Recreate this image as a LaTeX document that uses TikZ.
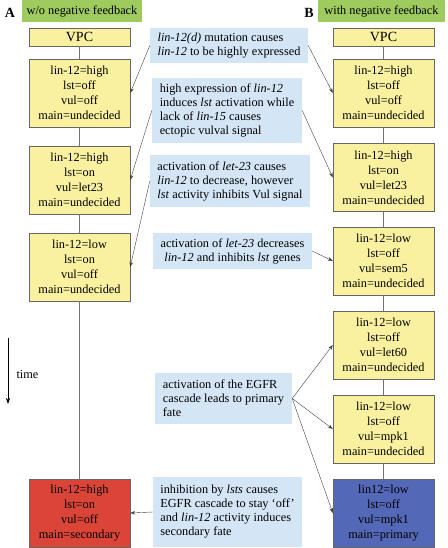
\documentclass[tikz,border=0pt]{standalone}
\usepackage{fontspec}
\setmainfont{Liberation Serif}
\usepackage{xcolor}
\usetikzlibrary{arrows.meta,positioning}
\definecolor{stateyellow}{HTML}{FAF1A0}
\definecolor{noteblue}{HTML}{D4E6F6}
\definecolor{headgreen}{HTML}{9DCB5E}
\definecolor{fatered}{HTML}{DB4538}
\definecolor{fateblue}{HTML}{5468B8}

\begin{document}
\begin{tikzpicture}[x=1pt,y=-1pt,font=\fontsize{12.3}{15}\selectfont,
state/.style={draw=black!60,fill=stateyellow,align=center,minimum width=101pt,minimum height=68pt,inner sep=1pt},
vpc/.style={state,minimum height=18pt,font=\fontsize{14}{15}\selectfont},
note/.style={fill=noteblue,align=left,inner sep=2pt,font=\fontsize{12.3}{14}\selectfont},
head/.style={fill=headgreen,minimum height=22pt,inner sep=0pt},
arr/.style={-{Stealth[length=5pt,width=3.5pt]},black!75},
link/.style={black!55}]
\useasboundingbox (0,0) rectangle (447,548);
% headers
\node[head,minimum width=120pt] (hA) at (82,11) {w/o negative feedback};
\node[font=\fontsize{14}{15}\selectfont\bfseries] (labA) at (10,13) {A};
\node[head,minimum width=127pt] (hB) at (381.5,11) {with negative feedback};
\node[font=\fontsize{14}{15}\selectfont\bfseries] (labB) at (309,13) {B};
% left column
\node[vpc] (l1) at (79.5,37) {VPC};
\node[state] (l2) at (79.5,93) {lin-12=high\\lst=off\\vul=off\\main=undecided};
\node[state] (l3) at (79.5,180) {lin-12=high\\lst=on\\vul=let23\\main=undecided};
\node[state] (l4) at (79.5,267) {lin-12=low\\lst=on\\vul=off\\main=undecided};
\node[state,fill=fatered] (l5) at (79.5,513) {lin-12=high\\lst=on\\vul=off\\main=secondary};
% right column
\node[vpc] (r1) at (383.5,37) {VPC};
\node[state] (r2) at (383.5,93) {lin-12=high\\lst=off\\vul=off\\main=undecided};
\node[state] (r3) at (383.5,177.5) {lin-12=high\\lst=on\\vul=let23\\main=undecided};
\node[state] (r4) at (383.5,261) {lin-12=low\\lst=off\\vul=sem5\\main=undecided};
\node[state] (r5) at (383.5,345) {lin-12=low\\lst=off\\vul=let60\\main=undecided};
\node[state] (r6) at (383.5,429) {lin-12=low\\lst=off\\vul=mpk1\\main=undecided};
\node[state,fill=fateblue] (r7) at (383.5,513) {lin12=low\\lst=off\\vul=mpk1\\main=primary};
% notes
\node[note,minimum width=158pt,minimum height=35pt] (n1) at (229,45.5) {\textit{lin-12(d)} mutation causes\\\textit{lin-12} to be highly expressed};
\node[note,minimum width=150pt,minimum height=65pt] (n2) at (227,110.5) {high expression of \textit{lin-12}\\induces \textit{lst} activation while\\lack of \textit{lin-15} causes\\ectopic vulval signal};
\node[note,minimum width=160pt,minimum height=52pt] (n3) at (230,181) {activation of \textit{let-23} causes\\\textit{lin-12} to decrease, however\\\textit{lst} activity inhibits Vul signal};
\node[note,align=center,minimum width=159pt,minimum height=36pt] (n4) at (232.5,251) {activation of \textit{let-23} decreases\\\textit{lin-12} and inhibits \textit{lst} genes};
\node[note,minimum width=137pt,minimum height=51pt] (n5) at (223.5,398.5) {activation of the EGFR\\cascade leads to primary\\fate};
\node[note,minimum width=149pt,minimum height=70pt] (n6) at (227.5,512) {inhibition by \textit{lsts} causes\\EGFR cascade to stay ‘off’\\and \textit{lin-12} activity induces\\secondary fate};
% column links
\draw[link] (l1)--(l2) (l2)--(l3) (l3)--(l4) (l4)--(l5);
\draw[link] (r1)--(r2) (r2)--(r3) (r3)--(r4) (r4)--(r5) (r5)--(r6) (r6)--(r7);
% arrows
\draw[arr] (n1.west)--(l2.east); \draw[arr] (n1.east)--(r2.west);
\draw[arr] (n2.west)--(l3.east); \draw[arr] (n2.east)--(r3.west);
\draw[arr] (n3.west)--(l4.east); \draw[arr] (n4.east)--(r4.west);
\draw[arr] (n5.east)--(r5.west); \draw[arr] (n5.east)--(r6.west); \draw[arr] (n5.east)--(r7.west);
\draw[arr] (n6.west)--(l5.east);
% time
\coordinate (t0) at (8,338); \coordinate (t1) at (8,404);
\draw[-{Stealth[length=6pt,width=4pt]},semithick] (t0)--(t1);
\node[anchor=west] (time) at (13,374) {time};
\end{tikzpicture}
\end{document}
